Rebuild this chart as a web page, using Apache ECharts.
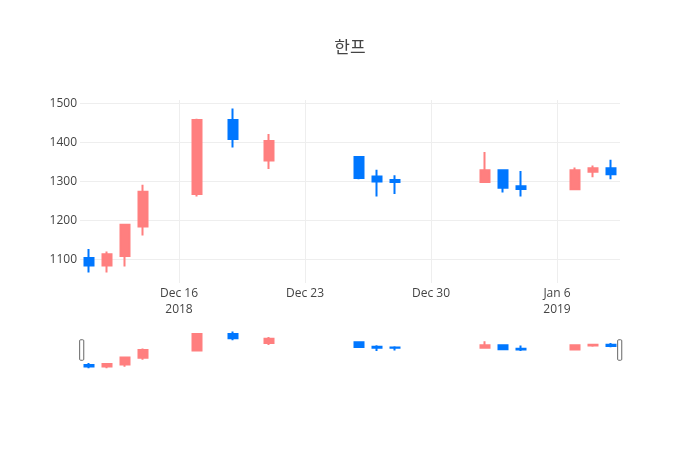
<!DOCTYPE html>
<html>
<head>
<meta charset="utf-8">
<script src="https://cdn.jsdelivr.net/npm/echarts@6/dist/echarts.min.js"></script>
<style>html,body{margin:0;padding:0;background:#fff;}#c{width:700px;height:450px;}</style>
</head>
<body>
<div id="c"></div>
<script>
const dates = ['2018-12-11','2018-12-12','2018-12-13','2018-12-14','2018-12-17','2018-12-19','2018-12-21','2018-12-26','2018-12-27','2018-12-28','2019-01-02','2019-01-03','2019-01-04','2019-01-07','2019-01-08','2019-01-09'];
const openV  = [1103,1084,1108,1184,1267,1457,1353,1362,1312,1303,1298,1328,1287,1279,1324,1333];
const closeV = [1084,1113,1188,1273,1457,1408,1403,1308,1299,1298,1328,1283,1280,1328,1333,1318];
const lowV   = [1066,1066,1081,1161,1261,1386,1331,1305,1261,1267,1298,1271,1261,1278,1310,1305];
const highV  = [1126,1120,1188,1291,1460,1486,1421,1362,1329,1315,1375,1330,1326,1335,1340,1355];
const tickDates = ['2018-12-16','2018-12-23','2018-12-30','2019-01-06'];
const tickLabels = ['Dec 16\n2018','Dec 23','Dec 30','Jan 6\n2019'];
const yTicks = [1100,1200,1300,1400,1500];
const rangeStart = '2018-12-10', rangeEnd = '2019-01-09';

const UP = '#ff7f7f', DOWN = '#0077ff';
const FONT = '"Open Sans", "Noto Sans CJK KR", sans-serif';
// day number (UTC days since epoch) used as the x scale
const dayNum = s => Math.round(Date.parse(s + 'T00:00:00Z') / 86400000);
const data = dates.map((d, i) => [dayNum(d), openV[i], closeV[i], lowV[i], highV[i]]);
const tickDays = tickDates.map(dayNum);
const xMin = dayNum(rangeStart) + 0.5, xMax = dayNum(rangeEnd) + 0.5;

const chart = echarts.init(document.getElementById('c'), null, {renderer: 'canvas'});
const candleStyle = {color: UP, color0: DOWN, borderColor: UP, borderColor0: DOWN, borderWidth: 2};
chart.setOption({
  animation: false,
  backgroundColor: '#fff',
  title: {
    text: '한프', left: 'center', top: 35,
    textStyle: {fontFamily: FONT, fontSize: 17, fontWeight: 'normal', color: '#444'}
  },
  grid: [
    {left: 80, right: 80, top: 100, height: 183},
    {left: 80, right: 80, top: 329.5, height: 41}
  ],
  xAxis: [
    {
      type: 'value', gridIndex: 0, min: xMin, max: xMax,
      axisLine: {show: false},
      axisTick: {show: false, customValues: tickDays},
      splitLine: {show: true, lineStyle: {color: '#eee', width: 1}},
      axisLabel: {
        customValues: tickDays,
        fontFamily: FONT, fontSize: 12, color: '#444', lineHeight: 16, margin: 3,
        formatter: function (value) {
          const i = tickDays.indexOf(Math.round(value));
          return i >= 0 ? tickLabels[i] : '';
        }
      }
    },
    {
      type: 'value', gridIndex: 1, min: xMin, max: xMax,
      axisLine: {show: false}, axisTick: {show: false},
      axisLabel: {show: false}, splitLine: {show: false}
    }
  ],
  yAxis: [
    {
      type: 'value', gridIndex: 0, min: 1039, max: 1508,
      axisLine: {show: false},
      axisTick: {show: false, customValues: yTicks},
      splitLine: {show: true, lineStyle: {color: '#eee', width: 1}},
      axisLabel: {customValues: yTicks, fontFamily: FONT, fontSize: 12, color: '#444', margin: 3,
        formatter: v => String(Math.round(v))}
    },
    {
      type: 'value', gridIndex: 1, min: 1039, max: 1508,
      axisLine: {show: false}, axisTick: {show: false},
      axisLabel: {show: false}, splitLine: {show: false}
    }
  ],
  dataZoom: [{
    type: 'slider', xAxisIndex: 0, filterMode: 'none', start: 0, end: 100,
    left: 80, right: 80, top: 329.5, height: 41,
    backgroundColor: 'rgba(0,0,0,0)', fillerColor: 'rgba(0,0,0,0)', borderColor: 'rgba(0,0,0,0)',
    showDataShadow: false, showDetail: false, brushSelect: false,
    moveHandleSize: 0, moveHandleStyle: {opacity: 0},
    handleIcon: 'path://M1,0 H3 A1,1 0 0 1 4,1 V19 A1,1 0 0 1 3,20 H1 A1,1 0 0 1 0,19 V1 A1,1 0 0 1 1,0 Z',
    handleSize: '50%',
    handleStyle: {color: '#fff', borderColor: '#666', borderWidth: 1},
    emphasis: {handleStyle: {color: '#fff', borderColor: '#666', borderWidth: 1}, moveHandleStyle: {opacity: 0}},
    handleLabel: {show: false},
    dataBackground: {lineStyle: {opacity: 0}, areaStyle: {opacity: 0}},
    selectedDataBackground: {lineStyle: {opacity: 0}, areaStyle: {opacity: 0}}
  }],
  series: [
    {
      type: 'candlestick', xAxisIndex: 0, yAxisIndex: 0,
      data: data, encode: {x: 0, y: [1, 2, 3, 4]},
      barWidth: 9, itemStyle: candleStyle
    },
    {
      type: 'candlestick', xAxisIndex: 1, yAxisIndex: 1,
      data: data, encode: {x: 0, y: [1, 2, 3, 4]},
      barWidth: 9, itemStyle: candleStyle, silent: true
    }
  ]
});
</script>
</body>
</html>
